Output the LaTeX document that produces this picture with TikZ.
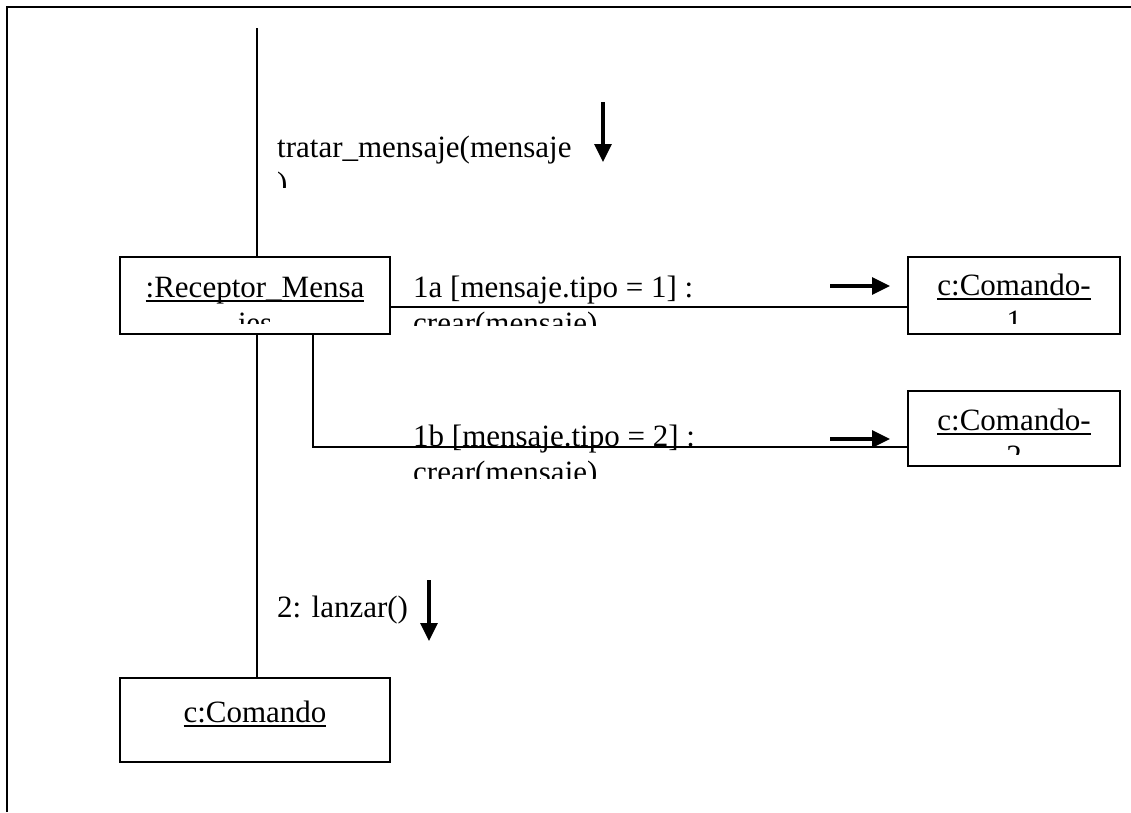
\documentclass[tikz,border=0pt]{standalone}
\usepackage{fontspec}
\setmainfont{Liberation Serif}
\usetikzlibrary{arrows.meta,calc}
\newsavebox\ulsave
\newcommand{\ulbox}[1]{\sbox\ulsave{#1}\rlap{\rule[-4.5pt]{\wd\ulsave}{1.5pt}}\usebox\ulsave}

\begin{document}
\begin{tikzpicture}[
  x=1pt, y=-1pt,
  font=\fontsize{31}{36}\selectfont,
  objbox/.style={draw, line width=2.2pt, inner sep=0pt},
  objtext/.style={inner sep=0pt, anchor=base},
  msglabel/.style={inner sep=0pt, anchor=base west},
  link/.style={line width=2.2pt},
  msg/.style={-{Triangle[length=18pt,width=17pt]}, line width=3.2pt},
]
\useasboundingbox (0,0) rectangle (1131,812);
\draw[line width=2.2pt] (7,812) -- (7,7) -- (1131,7);

% ---------------- objects
\node[objbox, minimum width=270pt, minimum height=77pt] (rec)  at (255,295.5) {};
\node[objbox, minimum width=212pt, minimum height=77pt] (cmd1) at (1014,295.5) {};
\node[objbox, minimum width=212pt, minimum height=75pt] (cmd2) at (1014,428.5) {};
\node[objbox, minimum width=270pt, minimum height=84pt] (cmd)  at (255,720) {};

% object names, cut at the lower text margin
\begin{scope}
  \clip ([yshift=12pt]rec.south west) rectangle (rec.north east);
  \node[objtext] (rec1) at (255,297) {\ulbox{:Receptor\_Mensa}};
  \node[objtext] (rec2) at (255,333) {jes};
\end{scope}
\begin{scope}
  \clip ([yshift=12pt]cmd1.south west) rectangle (cmd1.north east);
  \node[objtext] (cmd1a) at (1014,295) {\ulbox{c:Comando-}};
  \node[objtext] (cmd1b) at (1014,331) {1};
\end{scope}
\begin{scope}
  \clip ([yshift=13pt]cmd2.south west) rectangle (cmd2.north east);
  \node[objtext] (cmd2a) at (1014,430) {\ulbox{c:Comando-}};
  \node[objtext] (cmd2b) at (1014,466) {2};
\end{scope}
\node[objtext] (cmdt) at (255,722) {\ulbox{c:Comando}};

% ---------------- links
\coordinate (top) at (257,28);
\coordinate (y1a) at (0,307);
\coordinate (br)  at (313,447);
\draw[link] (top) -- (top|-rec.north);
\draw[link] (top|-rec.south) -- (top|-cmd.north);
\draw[link] (rec.east|-y1a) -- (cmd1.west|-y1a);
\draw[link] (br|-rec.south) -- (br) -- (cmd2.west|-br);

% ---------------- message labels
\begin{scope}
  \clip (270,120) rectangle (600,187);
  \node[msglabel] (ltr1) at (277,157) {tratar\_mensaje(mensaje};
  \node[msglabel] (ltr2) at (277,193) {)};
\end{scope}
\begin{scope}
  \clip (405,260) rectangle (720,325);
  \node[msglabel] (l1a1) at (413,297) {1a [mensaje.tipo = 1] :};
  \node[msglabel] (l1a2) at (413,333) {crear(mensaje)};
\end{scope}
\begin{scope}
  \clip (405,410) rectangle (720,478);
  \node[msglabel] (l1b1) at (413,446) {1b [mensaje.tipo = 2] :};
  \node[msglabel] (l1b2) at (413,482) {crear(mensaje)};
\end{scope}
\node[msglabel] (l2) at (277,617) {2: lanzar()};

% ---------------- message arrows
\coordinate (mtr) at (603,102);
\coordinate (m1a) at (830,286);
\coordinate (m1b) at (830,439);
\coordinate (m2)  at (429,580);
\draw[msg] (mtr) -- ++(0,60);
\draw[msg] (m1a) -- ++(60,0);
\draw[msg] (m1b) -- ++(60,0);
\draw[msg] (m2)  -- ++(0,61);

\end{tikzpicture}
\end{document}
